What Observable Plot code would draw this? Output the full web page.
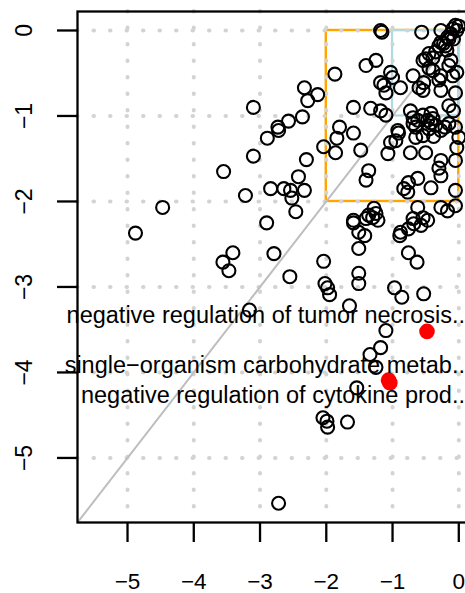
<!DOCTYPE html>
<html>
<head>
<meta charset="utf-8">
<script src="https://cdn.jsdelivr.net/npm/d3@7"></script>
<script src="https://cdn.jsdelivr.net/npm/@observablehq/plot@0.6"></script>
<style>
  html, body { margin: 0; padding: 0; background: #fff; overflow: hidden; width: 465px; height: 593px; }
  #chart { width: 480px; }
  #chart svg { display: block; max-width: none !important; width: 480px !important; height: 593px !important; }
</style>
</head>
<body>
<div id="chart"></div>
<script>
// ---- data ----
const xTicks = [-5, -4, -3, -2, -1, 0];
const yTicks = [-5, -4, -3, -2, -1, 0];
const axisDomain = [-5.755, 0.222];

const geneX = [
  -1.18, -1.16, -0.56, -0.27, -0.17, -0.09, -0.05, 0.00, -0.03, -0.12,
  -0.27, -0.30, -0.23, -0.18, -0.45, -0.39, -0.50, -0.54, -0.12, -0.15,
  -0.27, -0.30, -0.09, -0.03, -0.39, -0.45, -0.53, -0.60, -0.54, -0.69,
  -0.88, -1.03, -1.00, -1.18, -1.10, -1.13, -1.40, -1.25, -1.87, -0.27,
  -0.05, -0.15, -0.08, -1.59, -1.33, -1.18, -1.10, -0.73, -0.69, -0.42,
  -0.54, -0.69, -0.65, -0.47, -0.39, -0.35, -0.45, -0.54, -0.27, -0.15,
  -0.05, -0.62, -1.59, -1.03, -0.95, -1.07, -0.91, -0.92, -0.73, -0.50,
  -0.27, -0.30, -0.27, -0.05, -0.03, 0.00, -1.36, -1.40, -1.48, -0.76,
  -0.62, -0.83, -0.77, -0.42, -0.05, -0.27, -0.17, -0.05, -0.62, -0.54,
  -0.69, -0.68, -0.57, -0.76, -0.88, -0.47, -0.89, -1.28, -1.36, -1.30,
  -1.25, -1.40, -1.22, -1.59, -1.51, -1.42, -0.76, -0.63, -0.97, -0.86,
  -0.53, -1.80, -1.84, -1.86, -2.04, -0.38, -0.21, -0.65, -2.33, -2.28,
  -2.13, -3.10, -2.36, -2.57, -2.73, -2.72, -2.89, -3.10, -2.30, -3.55,
  -2.42, -2.84, -2.64, -2.54, -2.33, -2.52, -2.46, -3.22, -2.90, -4.88,
  -4.47, -3.56, -3.47, -3.41, -2.79, -2.55, -3.16, -2.04, -2.02, -1.98,
  -1.95, -1.65, -1.59, -1.51, -1.51, -1.51, -1.10, -1.18, -1.34, -1.25,
  -1.54, -2.05, -1.99, -1.98, -1.68, -2.72, -0.42, -0.15, -0.20, -0.08,
  -0.35
];
const geneY = [
   0.00, -0.02, -0.02,  0.00, -0.08,  0.02,  0.06,  0.05,  0.00, -0.04,
  -0.14, -0.18, -0.15, -0.23, -0.27, -0.32, -0.33, -0.35, -0.35, -0.41,
  -0.53, -0.58, -0.53, -0.49, -0.47, -0.44, -0.61, -0.67, -0.70, -0.53,
  -0.67, -0.49, -0.55, -0.61, -0.73, -0.64, -0.41, -0.35, -0.51, -0.70,
  -0.73, -0.88, -0.94, -0.90, -0.91, -0.94, -0.99, -0.94, -1.02, -0.97,
  -0.99, -1.09, -1.13, -1.05, -1.03, -1.11, -1.15, -1.23, -1.17, -1.09,
  -1.13, -1.05, -1.20, -1.31, -1.29, -1.44, -1.20, -1.17, -1.43, -1.43,
  -1.52, -1.61, -1.70, -1.52, -1.37, -1.25, -1.64, -1.75, -1.40, -1.78,
  -1.73, -1.85, -1.89, -1.84, -1.87, -2.07, -2.11, -2.05, -2.07, -2.19,
  -2.20, -2.26, -2.28, -2.32, -2.36, -2.22, -2.40, -2.08, -2.16, -2.19,
  -2.14, -2.20, -2.22, -2.22, -2.36, -2.40, -2.60, -2.71, -3.01, -3.12,
  -3.08, -1.13, -1.26, -1.43, -1.36, -1.24, -1.13, -1.25, -0.67, -0.82,
  -0.75, -0.90, -1.01, -1.06, -1.13, -1.17, -1.26, -1.47, -1.51, -1.65,
  -1.71, -1.85, -1.85, -1.87, -1.87, -1.96, -2.12, -1.93, -2.25, -2.37,
  -2.07, -2.71, -2.81, -2.60, -2.61, -2.88, -3.27, -2.70, -2.96, -3.01,
  -3.09, -3.22, -2.25, -2.84, -2.96, -2.55, -3.51, -3.71, -3.79, -3.94,
  -4.18, -4.53, -4.57, -4.64, -4.58, -5.53, -1.08, -0.10, -0.18, -0.10,
  -0.25
];

const hitLabels = [
  "negative regulation of tumor necrosis..",
  "single\u2212organism carbohydrate metab..",
  "negative regulation of cytokine prod.."
];
const hitX = [-0.48, -1.04, -1.06];
const hitY = [-3.52, -4.12, -4.09];

// ---- tables ----
const genes = geneX.map((x, i) => ({x, y: geneY[i]}));
const hits = hitLabels.map((label, i) => ({label, x: hitX[i], y: hitY[i]}));
const diag = axisDomain.map(v => ({x: v, y: v}));
const orangeBox = [{x1: -2, x2: 0, y1: -2, y2: 0}];
const blueBox = [{x1: -1, x2: 0, y1: -1, y2: 0}];

const font = "'Liberation Sans', Arial, Helvetica, sans-serif";
const labelDy = [-15.5, -17.5, 15.5];
const fmt = d => String(d).replace("-", "\u2212");

const chart = Plot.plot({
  width: 480,
  height: 593,
  marginLeft: 77,
  marginRight: 7,
  marginTop: 11,
  marginBottom: 71,
  style: {fontFamily: font, background: "white", overflow: "visible"},
  x: {domain: axisDomain, label: null},
  y: {domain: axisDomain, label: null},
  marks: [
    Plot.rect(orangeBox, {x1: "x1", x2: "x2", y1: "y1", y2: "y2", fill: "none", stroke: "#FFA500", strokeWidth: 2.4}),
    Plot.rect(blueBox, {x1: "x1", x2: "x2", y1: "y1", y2: "y2", fill: "none", stroke: "#ADD8E6", strokeWidth: 2.2}),
    Plot.ruleX(xTicks, {stroke: "#D3D3D3", strokeWidth: 4, strokeDasharray: "0.5,16", strokeLinecap: "round"}),
    Plot.ruleY(yTicks, {stroke: "#D3D3D3", strokeWidth: 4, strokeDasharray: "0.5,16", strokeLinecap: "round"}),
    Plot.line(diag, {x: "x", y: "y", stroke: "#BEBEBE", strokeWidth: 2, clip: true}),
    Plot.dot(genes, {x: "x", y: "y", r: 6.5, stroke: "black", strokeWidth: 2.1, fill: "none", clip: true}),
    Plot.dot(hits, {x: "x", y: "y", r: 7.8, fill: "red", stroke: "none"}),
    ...hits.map((h, i) => Plot.text([h], {
      y: "y", text: "label", frameAnchor: "right", dx: -8.5, dy: labelDy[i],
      textAnchor: "end", lineAnchor: "middle", fontSize: 23.5, fill: "black"
    })),
    Plot.frame({stroke: "black", strokeWidth: 2.3}),
    Plot.axisX({ticks: xTicks, tickSize: 20, tickPadding: 31, strokeWidth: 2.3, fontSize: 22.5, label: null, fill: "black", tickFormat: fmt}),
    Plot.axisY({ticks: yTicks, tickSize: 20, strokeWidth: 2.3, fill: "none", label: null}),
    Plot.text(yTicks, {
      y: d => d, text: fmt,
      frameAnchor: "left", dx: -53, rotate: -90, textAnchor: "middle",
      lineAnchor: "middle", fontSize: 23, fill: "black"
    })
  ]
});
document.getElementById("chart").appendChild(chart);
</script>
</body>
</html>
